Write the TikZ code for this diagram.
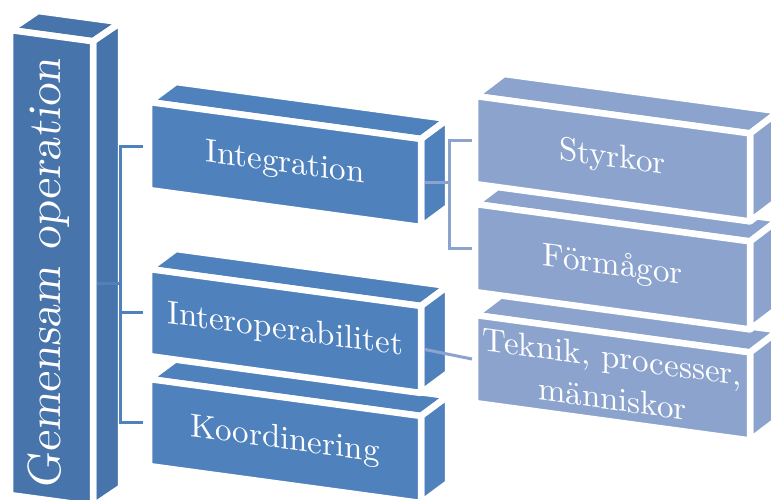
\documentclass[tikz,border=0pt]{standalone}
\usepackage{fontspec}
\setmainfont{lmroman10-regular.otf}[ItalicFont=lmroman10-italic.otf]
\usepackage{tikz}
\usetikzlibrary{calc}

\definecolor{colblue}{RGB}{71,116,170}
\definecolor{midblue}{RGB}{79,129,189}
\definecolor{paleblue}{RGB}{140,164,205}

\tikzset{
    face/.style={draw=white,line width=6.5pt,line join=round},
    lbl/.style={text=white,align=center,inner sep=0pt,yslant=-0.136,font=\fontsize{33}{42}\selectfont},
    linkA/.style={draw=midblue,line width=3pt},
    linkB/.style={draw=paleblue,line width=3pt}
}

% #1 name, #2 x, #3 y, #4 width, #5 height, #6 colour, #7 depth
\newcommand\slab[7]{%
    \pgfmathsetmacro\slabdrop{0.136*#4}
    \coordinate (#1-a) at (#2,#3);
    \coordinate (#1-b) at ($(#1-a)+(#4,\slabdrop)$);
    \coordinate (#1-c) at ($(#1-b)+(0,#5)$);
    \coordinate (#1-d) at ($(#1-a)+(0,#5)$);
    \path[face,fill=#6] (#1-a) -- (#1-b) -- ($(#1-b)+#7$) -- ($(#1-a)+#7$) -- cycle;
    \path[face,fill=#6] (#1-b) -- (#1-c) -- ($(#1-c)+#7$) -- ($(#1-b)+#7$) -- cycle;
    \path[face,fill=#6] (#1-a) -- (#1-b) -- (#1-c) -- (#1-d) -- cycle;
    \coordinate (#1-w) at ($(#1-a)!0.5!(#1-d)$);
    \coordinate (#1-e) at ($(#1-b)!0.5!(#1-c)$);
    \coordinate (#1-m) at ($(#1-a)!0.5!(#1-c)$);
}

\begin{document}
\begin{tikzpicture}[x=1pt,y=-1pt]
                    \useasboundingbox (0,0) rectangle (771,499);
                    \clip (0,0) rectangle (771,499);

                    \slab{gem}{10}{30}{83}{465}{colblue}{(28,-19)}
                    \node[lbl,rotate=90,font=\fontsize{46.5}{50}\selectfont] (gemensam) at (49,272) {Gemensam operation};

                    \slab{koord}{149}{379}{272}{87}{midblue}{(27,-20)}
                    \node[lbl] (koordinering) at (koord-m) {Koordinering};
                    \slab{inter}{149}{269}{272}{87}{midblue}{(27,-20)}
                    \node[lbl] (interop) at (inter-m) {Interoperabilitet};
                    \slab{integ}{149}{102}{272}{88}{midblue}{(27,-20)}
                    \node[lbl] (integration) at (integ-m) {Integration};

                    \slab{tek}{475}{315}{275}{88}{paleblue}{(29,-22)}
                    \node[lbl] (teknik) at (tek-m) {Teknik, processer,\\människor};
                    \slab{form}{475}{204}{275}{88}{paleblue}{(29,-22)}
                    \node[lbl] (formagor) at (form-m) {Förmågor};
                    \slab{styr}{475}{96}{275}{88}{paleblue}{(29,-22)}
                    \node[lbl] (styrkor) at (styr-m) {Styrkor};

                    \draw[linkA] ($(gem-e)+(4,10)$) -- ++(23,0);
                    \draw[linkA] ($(integ-w)+(-6,0)$) -- ($(integ-w)+(-29,0)$) |- ($(koord-w)+(-6,0)$);
                    \draw[linkA] ($(inter-w)+(-6,0)$) -- ++(-23,0);

                    \draw[linkB] ($(styr-w)+(-3,0)$) -- ++(-23,0) |- ($(form-w)+(-3,0)$);
                    \draw[linkB] ($(integ-e)+(4,0)$) -- ++(24,0);
                    \draw[linkB] ($(inter-e)+(4,0)$) -- ($(tek-w)+(-3,0)$);
                \end{tikzpicture}
\end{document}
